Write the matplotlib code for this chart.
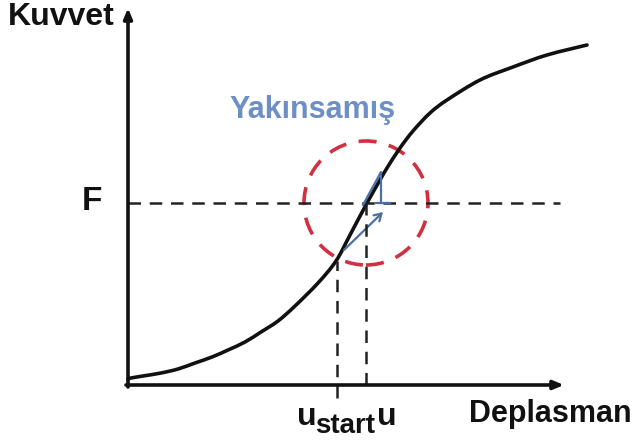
import matplotlib
matplotlib.use("Agg")
import numpy as np
import matplotlib.pyplot as plt
from matplotlib.patches import Circle, FancyArrowPatch, PathPatch
from matplotlib.path import Path

# Force-displacement curve (displacement, force) in drawing units
disp = [0, 3, 15, 33, 50, 67, 84, 100, 117, 133, 150, 167, 190, 208, 222, 239,
        252, 259, 272, 285, 302, 319, 352, 385, 419, 459]
force = [6, 7, 9, 12, 16, 22, 28, 35, 43, 53, 64, 79, 102, 124, 150, 182,
         205, 217, 237, 254, 272, 285, 305, 318, 330, 340]

# Newton iteration quantities
u_start = 209
u_start_force = 124
u_new = 238
F_level = 182
F_line_end = 432
conv_radius = 62

# Slope triangle and update arrow
tri_x = [235, 253, 253]
tri_y = [180, 213, 182]
foot_x = [248, 262]
arrow_from = (216, 135)
arrow_to = (255, 173)

x_axis_end = 436
y_axis_end = 377


def smooth_path(xs, ys):
    """Catmull-Rom spline through the points, as cubic Bezier segments."""
    p = np.column_stack([xs, ys]).astype(float)
    ext = np.vstack([p[0], p, p[-1]])
    verts = [p[0]]
    codes = [Path.MOVETO]
    for i in range(1, len(ext) - 2):
        p0, p1, p2, p3 = ext[i - 1], ext[i], ext[i + 1], ext[i + 2]
        verts += [p1 + (p2 - p0) / 6, p2 - (p3 - p1) / 6, p2]
        codes += [Path.CURVE4] * 3
    return Path(verts, codes)


fig = plt.figure(figsize=(6.37, 4.41), dpi=100)
ax = fig.add_axes([0, 0, 1, 1])
ax.set_xlim(-128, 509)
ax.set_ylim(-56, 385)
ax.axis("off")

black = "#111111"
blue = "#4a6fa5"
red = "#d0303f"

# Axes with arrows
ax.annotate("", xy=(x_axis_end, 0), xytext=(-2, 0),
            arrowprops=dict(arrowstyle="-|>,head_length=0.6,head_width=0.25",
                            lw=2.6, color=black, shrinkA=0, shrinkB=0))
ax.annotate("", xy=(0, y_axis_end), xytext=(0, -2),
            arrowprops=dict(arrowstyle="-|>,head_length=0.6,head_width=0.25",
                            lw=2.6, color=black, shrinkA=0, shrinkB=0))

# Dashed guide lines
dash = dict(color="#222222", lw=1.8, dashes=(5, 3.5))
ax.plot([0, F_line_end], [F_level, F_level], **dash)
ax.plot([u_start, u_start], [-13, u_start_force], **dash)
ax.plot([u_new, u_new], [0, F_level], **dash)

# Convergence circle
ax.add_patch(Circle((u_new, F_level), conv_radius, fill=False, edgecolor=red,
                    lw=2.6, linestyle=(0, (5, 3.5))))

# Main curve
ax.add_patch(PathPatch(smooth_path(disp, force), fill=False, edgecolor=black,
                       lw=2.6, capstyle="round", joinstyle="round"))

# Slope triangle and update arrow
ax.plot(tri_x, tri_y, color=blue, lw=1.6)
ax.plot(foot_x, [F_level, F_level], color=blue, lw=1.6)
ax.add_patch(FancyArrowPatch(arrow_from, arrow_to, arrowstyle="->,head_length=5,head_width=3",
                             color=blue, lw=1.6, shrinkA=0, shrinkB=0))

# Labels
font = dict(family="Liberation Sans", weight="bold")
ax.text(-120, 368, "Kuvvet", fontsize=23, ha="left", va="center", color=black, **font)
ax.text(-36, 183, "F", fontsize=24, ha="center", va="center", color=black, **font)
ax.text(504, -37, "Deplasman", fontsize=22, ha="right", va="baseline", color=black, **font)
ax.text(185, 275, "Yakınsamış", fontsize=22, ha="center", va="center", color="#6d8fc6", **font)
ax.text(169, -40, "u", fontsize=23, ha="left", va="baseline", color=black, **font)
ax.text(187, -48, "start", fontsize=20, ha="left", va="baseline", color=black, **font)
ax.text(249, -40, "u", fontsize=23, ha="left", va="baseline", color=black, **font)

fig.savefig("out.png", dpi=100, facecolor="white")
